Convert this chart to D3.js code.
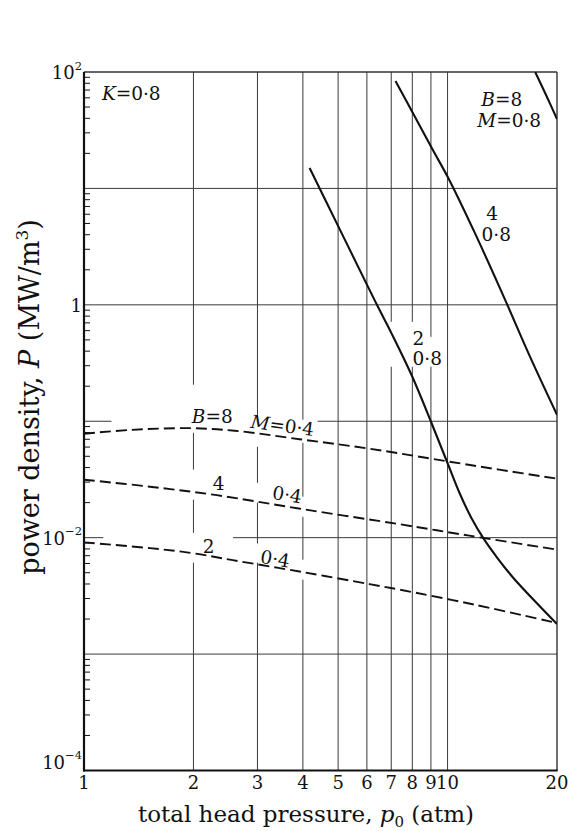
<!DOCTYPE html>
<html>
<head>
<meta charset="utf-8">
<script src="https://cdn.jsdelivr.net/npm/d3@7"></script>
<style>
  html, body { margin: 0; padding: 0; background: #fff; }
  svg { display: block; }
  text { font-family: "DejaVu Serif", "Liberation Serif", serif; fill: #111; }
</style>
</head>
<body>
<svg id="chart" width="569" height="831"></svg>
<script>
// ---- axis values ----
const xTickValues = [1, 2, 3, 4, 5, 6, 7, 8, 9, 10, 20];
const xGridValues = [2, 3, 4, 5, 6, 7, 8, 9, 10];
const yGridValues = [10, 1, 0.1, 0.01, 0.001];
const yLabelValues = [100, 1, 0.01, 0.0001];
const yLabelBase = ["10", "1", "10", "10"];
const yLabelExp = ["2", "", "\u22122", "\u22124"];

// ---- curves, M = 0.8 (solid) ----
const pressB8M08 = [17.42, 18.7, 20];
const powerB8M08 = [100, 62.5, 39.5];

const pressB4M08 = [7.19, 8.11, 9.08, 10.11, 11.85, 14.32, 16.77, 20];
const powerB4M08 = [83.7, 41.9, 21.8, 11.83, 4.23, 1.148, 0.372, 0.1137];

const pressB2M08 = [4.174, 5.045, 6.024, 6.497, 7.012, 7.955, 9.028, 9.99, 10.78, 11.62, 12.62, 13.7, 15.07, 17.53, 20];
const powerB2M08 = [15.0, 4.49, 1.456, 0.906, 0.569, 0.2506, 0.0971, 0.044, 0.02433, 0.01485, 0.00961, 0.00672, 0.00462, 0.00277, 0.00181];

// ---- curves, M = 0.4 (dashed) ----
const pressB8M04 = [1, 1.338, 1.954, 2.598, 3.918, 6.1, 9.92, 13.87, 20];
const powerB8M04 = [0.0781, 0.0842, 0.0872, 0.0829, 0.0701, 0.0581, 0.0454, 0.0384, 0.0321];

const pressB4M04 = [1, 1.518, 2.319, 3.995, 7.375, 11.48, 20];
const powerB4M04 = [0.03147, 0.02741, 0.02317, 0.01757, 0.01305, 0.0104, 0.00789];

const pressB2M04 = [1, 1.518, 1.992, 2.566, 3.995, 6.1, 7.375, 11.85, 20];
const powerB2M04 = [0.00911, 0.00813, 0.00736, 0.00641, 0.00506, 0.00399, 0.00358, 0.00266, 0.00185];

// ---- curve annotations (anchored in data units) ----
const labelText  = ["K=0\u00b78", "B=8", "M=0\u00b78", "4", "0\u00b78", "2", "0\u00b78",
                    "B=8", "M=0\u00b74", "4", "0\u00b74", "2", "0\u00b74"];
const labelPress = [1.12, 12.38, 12.07, 12.78, 12.4, 8.01, 8.01,
                    1.98, 2.86, 2.26, 3.28, 2.12, 3.04];
const labelPower = [57.5, 51.1, 33.7, 5.37, 3.54, 0.454, 0.305,
                    0.097, 0.0879, 0.0258, 0.0216, 0.00743, 0.0061];
// index of the curve whose slope a label follows (-1 = upright)
const labelFollows = [-1, -1, -1, -1, -1, -1, -1, -1, 3, -1, 4, -1, 5];

// gridline breaks left open around the annotations (data units)
const hGridGaps = { "0.1": [[1.19, 4.39]], "0.01": [[1.13, 2.57]] };
const vGridGaps = {
  2: [[0.0796, 0.2056], [0.0212, 0.0384], [0.0061, 0.011]],
  3: [[0.0604, 0.109], [0.02, 0.0296], [0.0061, 0.0089]],
  4: [[0.0653, 0.103], [0.0151, 0.0225], [0.00436, 0.00647]],
  7: [[0.294, 0.714]], 8: [[0.294, 0.714]], 9: [[0.294, 0.531]]
};

const series = [
  { press: pressB8M08, power: powerB8M08, dashed: false },
  { press: pressB4M08, power: powerB4M08, dashed: false },
  { press: pressB2M08, power: powerB2M08, dashed: false },
  { press: pressB8M04, power: powerB8M04, dashed: true },
  { press: pressB4M04, power: powerB4M04, dashed: true },
  { press: pressB2M04, power: powerB2M04, dashed: true }
];

// ---- layout ----
const plot = { left: 84, right: 557, top: 72, bottom: 770.5 };
const svg = d3.select("#chart");

const x = d3.scaleLog().domain([1, 20]).range([plot.left, plot.right]);
const y = d3.scaleLog().domain([1e-4, 1e2]).range([plot.bottom, plot.top]);

svg.append("defs").append("clipPath").attr("id", "plotClip")
  .append("rect")
  .attr("x", plot.left).attr("y", plot.top)
  .attr("width", plot.right - plot.left).attr("height", plot.bottom - plot.top);

// split a [lo, hi] range into the pieces left between gaps
function pieces(lo, hi, gaps) {
  const out = [];
  let start = lo;
  (gaps || []).slice().sort((a, b) => a[0] - b[0]).forEach(([a, b]) => {
    out.push([start, a]);
    start = b;
  });
  out.push([start, hi]);
  return out;
}

// ---- gridlines ----
const grid = svg.append("g").attr("stroke", "#3a3a3a").attr("stroke-width", 1).attr("fill", "none");
yGridValues.forEach(v => {
  pieces(1, 20, hGridGaps[String(v)]).forEach(([a, b]) => {
    grid.append("line")
      .attr("x1", x(a)).attr("x2", x(b))
      .attr("y1", y(v)).attr("y2", y(v));
  });
});
xGridValues.forEach(v => {
  pieces(1e-4, 1e2, vGridGaps[v]).forEach(([a, b]) => {
    grid.append("line")
      .attr("x1", x(v)).attr("x2", x(v))
      .attr("y1", y(a)).attr("y2", y(b));
  });
});

// ---- minor ticks on the power axis ----
const minor = [];
for (let e = -4; e < 2; e++) for (let k = 2; k <= 9; k++) minor.push(k * Math.pow(10, e));
svg.append("g").selectAll("line").data(minor).join("line")
  .attr("x1", plot.left).attr("x2", plot.left + 6)
  .attr("y1", d => y(d)).attr("y2", d => y(d))
  .attr("stroke", "#111").attr("stroke-width", 1);

// ---- frame ----
const frame = svg.append("g").attr("fill", "none");
frame.append("line").attr("x1", plot.left).attr("x2", plot.right)
  .attr("y1", plot.top).attr("y2", plot.top).attr("stroke", "#333").attr("stroke-width", 1.3);
frame.append("line").attr("x1", plot.right).attr("x2", plot.right)
  .attr("y1", plot.top).attr("y2", plot.bottom).attr("stroke", "#333").attr("stroke-width", 1.4);
frame.append("line").attr("x1", plot.left).attr("x2", plot.left)
  .attr("y1", plot.top).attr("y2", plot.bottom + 1).attr("stroke", "#111").attr("stroke-width", 2.2);
frame.append("line").attr("x1", plot.left - 1).attr("x2", plot.right + 0.7)
  .attr("y1", plot.bottom).attr("y2", plot.bottom).attr("stroke", "#111").attr("stroke-width", 2.2);

// ---- curves ----
const line = d3.line()
  .x(d => x(d[0])).y(d => y(d[1]))
  .curve(d3.curveCatmullRom.alpha(0.5));

svg.append("g").attr("clip-path", "url(#plotClip)")
  .selectAll("path").data(series).join("path")
  .attr("d", s => line(s.press.map((p, i) => [p, s.power[i]])))
  .attr("fill", "none")
  .attr("stroke", "#111")
  .attr("stroke-width", s => s.dashed ? 1.9 : 2.1)
  .attr("stroke-dasharray", s => s.dashed ? "11,5" : null);

// ---- annotations ----
function writeLabel(sel, str) {
  // capital letters are set in italic, the rest upright
  str.split(/([A-Z])/).filter(t => t.length).forEach(t => {
    sel.append("tspan")
      .attr("font-style", /^[A-Z]$/.test(t) ? "italic" : null)
      .text(t);
  });
}

function slopeAngle(s, p) {
  // local direction of a curve near pressure p, in screen degrees
  const pts = s.press.map((q, i) => [x(q), y(s.power[i])]);
  const px = x(p);
  let i = d3.bisector(d => d[0]).left(pts, px);
  i = Math.max(1, Math.min(pts.length - 1, i));
  const [x0, y0] = pts[i - 1], [x1, y1] = pts[i];
  return Math.atan2(y1 - y0, x1 - x0) * 180 / Math.PI;
}

const ann = svg.append("g").attr("font-size", 18.5);
labelText.forEach((t, i) => {
  const px = x(labelPress[i]), py = y(labelPower[i]);
  const g = ann.append("text").attr("x", px).attr("y", py);
  if (labelFollows[i] >= 0) {
    const a = slopeAngle(series[labelFollows[i]], labelPress[i]);
    g.attr("transform", `rotate(${a},${px},${py})`);
  }
  writeLabel(g, t);
});

// ---- tick labels ----
const xt = svg.append("g").attr("font-size", 18).attr("text-anchor", "middle");
xTickValues.forEach(v => {
  xt.append("text").attr("x", x(v)).attr("y", plot.bottom + 18).text(v);
});

const yt = svg.append("g").attr("font-size", 18).attr("text-anchor", "end");
yLabelValues.forEach((v, i) => {
  const ty = Math.min(y(v) + 7, plot.bottom - 2);
  const t = yt.append("text").attr("x", plot.left - 2).attr("y", ty);
  t.append("tspan").text(yLabelBase[i]);
  if (yLabelExp[i]) {
    t.append("tspan").attr("font-size", 11.5).attr("dy", -9.5).text(yLabelExp[i]);
  }
});

// ---- axis titles ----
const xTitle = svg.append("text")
  .attr("x", 306).attr("y", 822)
  .attr("text-anchor", "middle").attr("font-size", 23);
xTitle.append("tspan").text("total head pressure, ");
xTitle.append("tspan").attr("font-style", "italic").text("p");
xTitle.append("tspan").attr("font-size", 15).attr("dy", 5).text("0");
xTitle.append("tspan").attr("dy", -5).text(" (atm)");

const yTitle = svg.append("text")
  .attr("transform", "translate(39,397) rotate(-90)")
  .attr("text-anchor", "middle").attr("font-size", 27);
yTitle.append("tspan").text("power density, ");
yTitle.append("tspan").attr("font-style", "italic").text("P");
yTitle.append("tspan").text(" (MW/m");
yTitle.append("tspan").attr("font-size", 17).attr("dy", -11).text("3");
yTitle.append("tspan").attr("dy", 11).text(")");
</script>
</body>
</html>
